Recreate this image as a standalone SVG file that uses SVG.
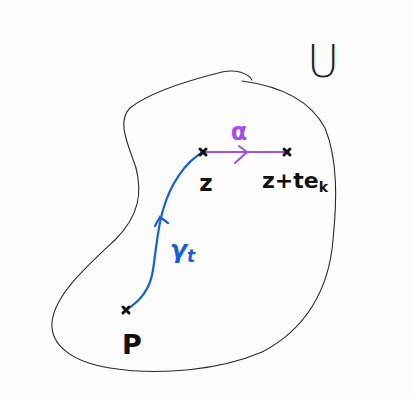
<svg xmlns="http://www.w3.org/2000/svg" width="412" height="399" viewBox="0 0 412 399">
<style>
.outline{fill:none;stroke:#2a2a2a;stroke-width:1.1;stroke-linecap:round}
.gamma{fill:none;stroke:#1560d8;stroke-width:2.2;stroke-linecap:round}
.alpha{fill:none;stroke:#9a50f5;stroke-width:2;stroke-linecap:round}
.mark{fill:none;stroke:#111;stroke-width:3;stroke-linecap:round}
.lbl{font-family:"DejaVu Sans",sans-serif;font-weight:bold;fill:#111}
</style>
<rect width="412" height="399" fill="#fdfdfd"/>
<g id="region-U">
<path class="outline" d="M136,168 C129,146 116,122 130,108 C150,92 190,80 222,72 C236,69 248,73 252,80"/>
<path class="outline" d="M242,81 C280,86 310,100 325,128 C338,160 337,200 333,240 C329,290 305,330 262,352 C220,370 160,376 110,368 C72,362 50,345 52,322 C55,295 85,268 115,240 C140,215 142,192 136,168"/>
<text x="307" y="77" style="font-family:'DejaVu Sans',sans-serif;font-weight:200;font-size:44px;fill:#222">U</text>
</g>
<g id="connectors">
<path class="gamma" d="M126,310 C140,301 150,290 153,270 C156,250 158,226 163,210 C170,185 185,162 203,152"/>
<path class="gamma" d="M155,226 L160,217 L168,223" stroke-width="3.4"/>
<text x="170" y="258" style="font-family:'DejaVu Sans',sans-serif;font-weight:bold;font-style:italic;font-size:25px;fill:#1560d8">γ<tspan dy="4" font-size="17">t</tspan></text>
<path class="alpha" d="M203,152 L287,152"/>
<path class="alpha" d="M239,146 L247,152 L235,163" stroke-width="2.6"/>
<text x="239" y="140" text-anchor="middle" style="font-family:'DejaVu Sans',sans-serif;font-weight:bold;font-size:24px;fill:#9a50f5">α</text>
</g>
<g id="point-z">
<path class="mark" d="M200,149 L206,155 M206,149 L200,155"/>
<text class="lbl" x="206" y="191" text-anchor="middle" font-size="23">z</text>
</g>
<g id="point-z-te">
<path class="mark" d="M284,149 L290,155 M290,149 L284,155"/>
<text class="lbl" x="262" y="188" font-size="22">z+te<tspan dy="4" font-size="14">k</tspan></text>
</g>
<g id="point-P">
<path class="mark" d="M123,307 L129,313 M129,307 L123,313"/>
<text class="lbl" x="132" y="354" text-anchor="middle" font-size="27">P</text>
</g>
</svg>
